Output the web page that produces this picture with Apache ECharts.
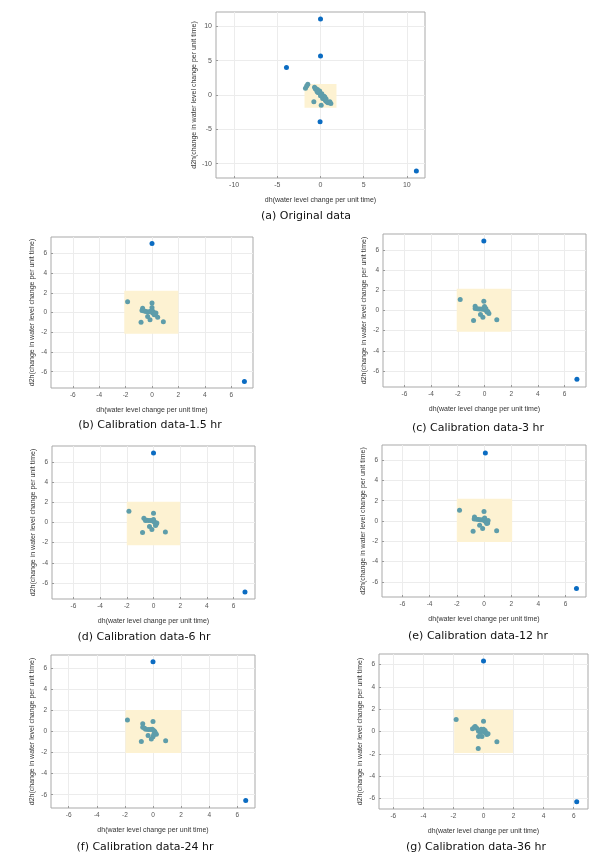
<!DOCTYPE html>
<html lang="en">
<head>
<meta charset="UTF-8">
<script src="https://cdn.jsdelivr.net/npm/echarts@6/dist/echarts.min.js"></script>
<title>dh vs d2h</title>
<style>
  html, body, #main { margin: 0; padding: 0; width: 609px; height: 863px; background: #fff; }
</style>
</head>
<body>
<div id="main"></div>
<script>
  // ---- data ----
  const captions = ['(a) Original data', '(b) Calibration data-1.5 hr', '(c) Calibration data-3 hr',
    '(d) Calibration data-6 hr', '(e) Calibration data-12 hr', '(f) Calibration data-24 hr', '(g) Calibration data-36 hr']
  const limits = [12.1, 7.65, 7.6, 7.6, 7.5, 7.26, 6.95]
  const ticksBig = [-10, -5, 0, 5, 10]
  const ticksSmall = [-6, -4, -2, 0, 2, 4, 6]

  // outliers (blue)
  const outX = [
    [0, 0, -3.94, -0.05, 11.1],
    [0, 7.0],
    [-0.05, 6.92],
    [0, 6.85],
    [0.1, 6.8],
    [0, 6.6],
    [0, 6.2]
  ]
  const outY = [
    [11.08, 5.7, 4.0, -3.9, -11.08],
    [7.0, -6.98],
    [6.9, -6.83],
    [6.9, -6.9],
    [6.7, -6.66],
    [6.63, -6.56],
    [6.33, -6.3]
  ]

  // normal points (teal)
  const clX = [
    [-1.74, -1.47, -1.6, -0.69, -0.55, -0.45, -0.35, -0.25, -0.2, -0.1, 0, 0.05, 0.12, 0.2, 0.3, 0.35, 0.45, 0.55, 0.6, 0.7, 0.8, -0.3, -0.1, 0.15, 0.4, -0.77, 0.08, 0.89, 1.08, 1.2, -0.6, 0.25, 0.5, 0.65, -0.4, 0],
    [-1.85, 0, -0.71, -0.76, -0.6, -0.45, -0.3, -0.15, 0, 0, 0.05, 0.17, 0.3, 0.1, 0.43, -0.33, -0.15, -0.83, 0.86, -0.05, 0.2],
    [-1.82, -0.05, -0.7, -0.7, -0.55, -0.4, -0.25, -0.1, 0, 0.05, 0.12, 0.2, 0.33, -0.3, -0.12, -0.82, 0.92, 0.1, 0.25],
    [-1.84, 0, -0.72, -0.6, -0.5, -0.35, -0.2, 0, 0.05, 0.1, 0.2, 0.25, -0.3, -0.12, -0.82, 0.89, -0.05, 0.15],
    [-1.8, 0, -0.7, -0.72, -0.55, -0.4, -0.25, -0.1, 0, 0.08, 0.15, 0.27, 0.3, -0.32, -0.1, -0.8, 0.93, 0.05, 0.2],
    [-1.82, 0, -0.73, -0.73, -0.52, -0.35, -0.2, -0.05, 0.12, 0.05, 0.24, -0.35, 0, -0.12, -0.83, 0.9, 0.15, -0.6, 0.05],
    [-1.82, 0, -0.55, -0.73, -0.6, -0.45, -0.33, -0.15, 0.07, 0, 0.22, 0.15, -0.33, -0.1, -0.35, 0.89, 0.1, 0.3, -0.2]
  ]
  const clY = [
    [0.98, 1.56, 1.3, 1.12, 0.95, 0.75, 0.8, 0.55, 0.4, 0.3, 0.2, 0.05, -0.05, -0.15, -0.3, -0.45, -0.55, -0.7, -0.85, -0.95, -1.05, 0.35, 0.6, 0.2, -0.2, -0.98, -1.5, -1.12, -0.98, -1.25, 0.9, -0.5, -0.3, -0.6, 0.5, -0.1],
    [1.08, 0.95, 0.44, 0.2, 0.15, 0.1, 0.05, 0.1, 0.5, 0.25, -0.06, -0.23, -0.06, 0.05, -0.47, -0.4, -0.74, -1.0, -0.94, 0.15, -0.15],
    [1.09, 0.92, 0.43, 0.2, 0.18, 0.15, 0.15, 0.12, 0.4, 0.1, 0, -0.15, -0.3, -0.4, -0.66, -0.99, -0.92, 0.2, -0.1],
    [1.13, 0.93, 0.43, 0.2, 0.22, 0.2, 0.2, 0.3, 0.1, 0, -0.17, -0.05, -0.4, -0.7, -1.0, -0.94, 0.15, -0.3],
    [1.06, 0.93, 0.4, 0.2, 0.18, 0.15, 0.12, 0.1, 0.2, 0, -0.1, -0.2, 0.05, -0.43, -0.75, -1.0, -0.95, 0.3, -0.25],
    [1.1, 0.95, 0.73, 0.4, 0.22, 0.2, 0.2, 0.22, 0, 0.1, -0.25, -0.38, -0.5, -0.72, -0.95, -0.88, -0.1, 0.3, -0.3],
    [1.07, 0.92, 0.45, 0.24, 0.4, 0.3, 0.03, 0.2, -0.06, 0.2, -0.27, -0.1, -0.45, -0.45, -1.52, -0.92, 0.1, -0.2, -0.1]
  ]

  // yellow box [x1, y1, x2, y2]
  const boxes = [
    [-1.85, -1.86, 1.85, 1.6],
    [-2.1, -2.16, 2.0, 2.2],
    [-2.08, -2.11, 2.0, 2.15],
    [-2.0, -2.27, 2.0, 2.06],
    [-2.0, -2.08, 2.07, 2.2],
    [-1.96, -2.05, 2.0, 2.05],
    [-1.95, -1.93, 1.96, 1.96]
  ]

  // ---- layout ----
  const rects = [
    { left: 216, top: 12, width: 209, height: 166 },
    { left: 51, top: 237, width: 202, height: 151 },
    { left: 383, top: 234, width: 203, height: 153 },
    { left: 52, top: 446, width: 203, height: 153 },
    { left: 382, top: 445, width: 204, height: 152 },
    { left: 51, top: 655, width: 204, height: 153 },
    { left: 379, top: 654, width: 209, height: 155 }
  ]
  const capPos = [[306, 216], [150, 425], [478, 428], [144, 637], [478, 636], [145, 847], [476, 847]]

  const grid = [], xAxis = [], yAxis = [], series = [], graphic = []
  rects.forEach((r, i) => {
    const lim = limits[i]
    const ticks = i === 0 ? ticksBig : ticksSmall
    const fs = i === 0 ? 7 : 6.5
    grid.push(Object.assign({ show: true, borderColor: '#a9a9a9', borderWidth: 1 }, r))
    const axisBase = {
      gridIndex: i,
      type: 'value',
      min: -lim,
      max: lim,
      axisLine: { show: false, onZero: false },
      axisTick: { show: true, inside: true, length: 2, customValues: ticks, lineStyle: { color: '#999' } },
      axisLabel: { customValues: ticks, fontSize: fs, color: '#555', fontFamily: 'Liberation Sans', margin: 4 },
      splitLine: { show: true, lineStyle: { color: '#ececec', width: 1 } },
      nameLocation: 'middle',
      nameTextStyle: { fontSize: 7, color: '#333', fontFamily: 'Liberation Sans' }
    }
    xAxis.push(Object.assign({}, axisBase, { name: 'dh(water level change per unit time)', nameGap: 19 }))
    yAxis.push(Object.assign({}, axisBase, { name: 'd2h(change in water level change per unit time)', nameGap: i === 0 ? 16 : 15 }))

    const b = boxes[i]
    series.push({
      type: 'scatter',
      xAxisIndex: i,
      yAxisIndex: i,
      symbolSize: 5,
      itemStyle: { color: '#5e9daa', opacity: 1 },
      data: clX[i].map((x, k) => [x, clY[i][k]]),
      markArea: {
        silent: true,
        itemStyle: { color: '#fdf2d2' },
        data: [[{ coord: [b[0], b[1]] }, { coord: [b[2], b[3]] }]]
      },
      z: 3
    })
    series.push({
      type: 'scatter',
      xAxisIndex: i,
      yAxisIndex: i,
      symbolSize: 5,
      itemStyle: { color: '#0b6cc2', opacity: 1 },
      data: outX[i].map((x, k) => [x, outY[i][k]]),
      z: 4
    })
    graphic.push({
      type: 'text',
      x: capPos[i][0],
      y: capPos[i][1],
      style: {
        text: captions[i],
        fontSize: 11,
        fontFamily: 'DejaVu Sans',
        fill: '#111',
        align: 'center',
        verticalAlign: 'middle'
      }
    })
  })

  const chart = echarts.init(document.getElementById('main'))
  chart.setOption({ animation: false, grid, xAxis, yAxis, series, graphic })
</script>
</body>
</html>
